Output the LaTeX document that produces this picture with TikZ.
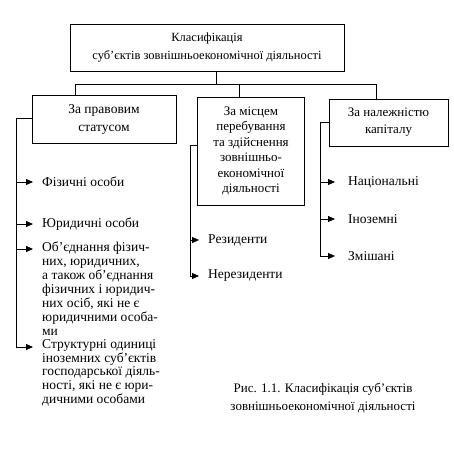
\documentclass[tikz,border=0pt]{standalone}
\usepackage{fontspec}
\setmainfont{Liberation Serif}
\usetikzlibrary{arrows.meta}
\begin{document}
\begin{tikzpicture}[x=1pt,y=-1pt,
  every node/.style={font=\fontsize{13.5}{14}\selectfont},
  boxnode/.style={draw,line width=0.8pt,align=center,inner sep=0pt},
  itemtext/.style={anchor=north west,align=left,inner sep=0pt},
  single/.style={anchor=west,inner sep=0pt},
  ln/.style={line width=0.8pt},
  arr/.style={line width=0.8pt,-{Triangle[length=7pt,width=6pt]}}]
\useasboundingbox (0,0) rectangle (453,457);
% boxes
\node[boxnode,minimum width=274pt,minimum height=47pt,font=\fontsize{12.5}{18}\selectfont] (top) at (207,48) {Класифікація\\ суб’єктів зовнішньоекономічної діяльності};
\node[boxnode,minimum width=144pt,minimum height=48pt,font=\fontsize{13.5}{18}\selectfont] (b1) at (104,119) {За правовим\\статусом};
\node[boxnode,minimum width=107pt,minimum height=108pt,font=\fontsize{13}{15.5}\selectfont] (b2) at (251,151) {За місцем\\перебування\\та здійснення\\зовнішньо-\\економічної\\діяльності};
\node[boxnode,minimum width=119pt,minimum height=47pt,font=\fontsize{13}{17}\selectfont] (b3) at (388.5,122.5) {За належністю\\капіталу};
% tree connectors
\coordinate (j) at (216,84);
\coordinate (l) at (75,84);
\coordinate (m) at (239,84);
\coordinate (r) at (376,84);
\draw[ln] (j |- top.south) -- (j);
\draw[ln] (l |- b1.north) -- (l) -- (r) -- (r |- b3.north);
\draw[ln] (m) -- (m |- b2.north);
% left column
\node[single] (i1) at (42,182) {Фізичні особи};
\node[single] (i2) at (42,224) {Юридичні особи};
\node[itemtext] (i3) at (42,241.5) {Об’єднання фізич-\\них, юридичних,\\а також об’єднання\\фізичних і юридич-\\них осіб, які не є\\юридичними особа-\\ми};
\node[itemtext,font=\fontsize{13.5}{13.6}\selectfont] (i4) at (42,339.5) {Структурні одиниці\\іноземних суб’єктів\\господарської діяль-\\ності, які не є юри-\\дичними особами};
\coordinate (lv) at (16,118);
\coordinate (a1) at (33,182);
\coordinate (a2) at (33,224);
\coordinate (a3) at (33,249);
\coordinate (a4) at (33,347);
\draw[ln] (b1.west |- lv) -- (lv) -- (lv |- a4);
\draw[arr] (lv |- a1) -- (a1);
\draw[arr] (lv |- a2) -- (a2);
\draw[arr] (lv |- a3) -- (a3);
\draw[arr] (lv |- a4) -- (a4);
% middle column
\node[single] (m1) at (208,240) {Резиденти};
\node[single] (m2) at (208,276) {Нерезиденти};
\coordinate (mv) at (190,145);
\coordinate (c1) at (199,240);
\coordinate (c2) at (199,276);
\draw[ln] (b2.west |- mv) -- (mv) -- (mv |- c2);
\draw[arr] (mv |- c1) -- (c1);
\draw[arr] (mv |- c2) -- (c2);
% right column
\node[single] (r1) at (348,182) {Національні};
\node[single] (r2) at (348,219) {Іноземні};
\node[single] (r3) at (348,256) {Змішані};
\coordinate (rv) at (320,122);
\coordinate (d1) at (335,182);
\coordinate (d2) at (335,219);
\coordinate (d3) at (335,256);
\draw[ln] (b3.west |- rv) -- (rv) -- (rv |- d3);
\draw[arr] (rv |- d1) -- (d1);
\draw[arr] (rv |- d2) -- (d2);
\draw[arr] (rv |- d3) -- (d3);
% caption
\node[align=center,inner sep=0pt,font=\fontsize{13}{18}\selectfont] (cap) at (323,398) {Рис. 1.1. Класифікація суб’єктів\\зовнішньоекономічної діяльності};
\end{tikzpicture}
\end{document}
